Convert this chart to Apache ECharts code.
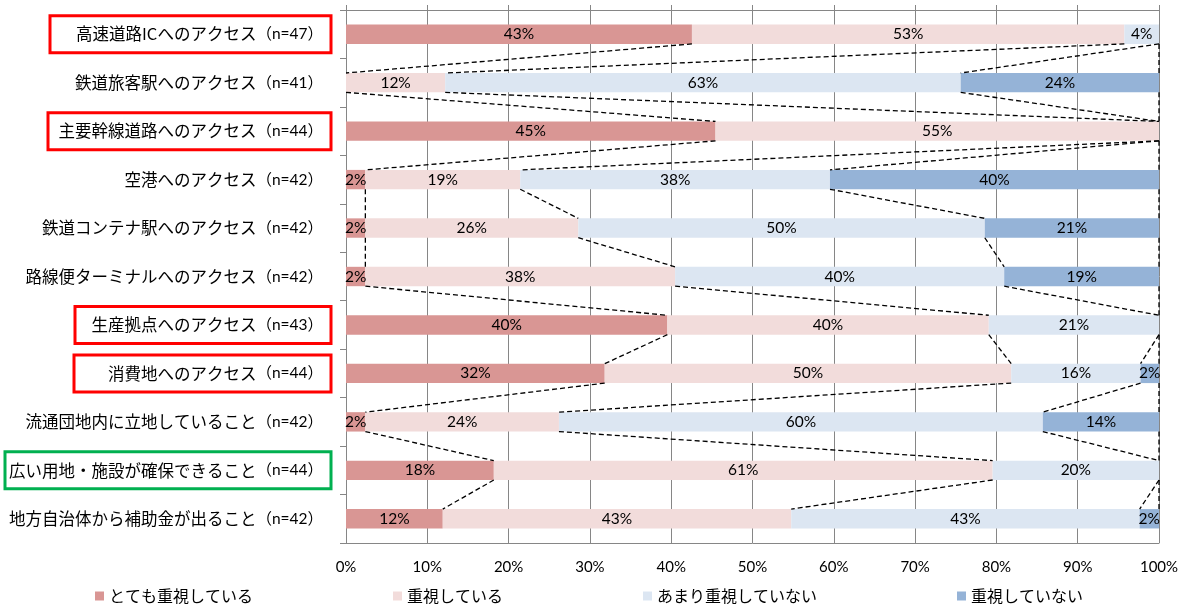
<!DOCTYPE html>
<html>
<head>
<meta charset="utf-8">
<script src="https://cdn.jsdelivr.net/npm/echarts@6/dist/echarts.min.js"></script>
<style>
  html, body { margin: 0; padding: 0; background: #fff; }
  #chart { width: 1186px; height: 610px; }
</style>
</head>
<body>
<div id="chart"></div>
<script>
// Survey items (top to bottom)
const categories = [
  '高速道路ICへのアクセス（n=47）',
  '鉄道旅客駅へのアクセス（n=41）',
  '主要幹線道路へのアクセス（n=44）',
  '空港へのアクセス（n=42）',
  '鉄道コンテナ駅へのアクセス（n=42）',
  '路線便ターミナルへのアクセス（n=42）',
  '生産拠点へのアクセス（n=43）',
  '消費地へのアクセス（n=44）',
  '流通団地内に立地していること（n=42）',
  '広い用地・施設が確保できること（n=44）',
  '地方自治体から補助金が出ること（n=42）'
];

const seriesNames = ['とても重視している', '重視している', 'あまり重視していない', '重視していない'];

// Share of respondents (%) per answer
const veryImportant = [42.55, 0,     45.45, 2.38,  2.38,  2.38,  39.53, 31.82, 2.38,  18.18, 11.90];
const important     = [53.19, 12.20, 54.55, 19.05, 26.19, 38.10, 39.53, 50.00, 23.81, 61.36, 42.86];
const notVery       = [4.26,  63.41, 0,     38.10, 50.00, 40.48, 20.94, 15.91, 59.52, 20.46, 42.86];
const notImportant  = [0,     24.39, 0,     40.47, 21.43, 19.04, 0,     2.27,  14.29, 0,     2.38];

const xTicks = [0, 10, 20, 30, 40, 50, 60, 70, 80, 90, 100];

const seriesValues = [veryImportant, important, notVery, notImportant];
const colors = ['#D99694', '#F2DCDB', '#DCE6F2', '#95B3D7'];
const BAR_RATIO = 0.4;
const JP_FONT = '"Noto Sans CJK JP", "Noto Sans", sans-serif';
const NUM_FONT = 'Lato, "Noto Sans CJK JP", sans-serif';

// Items drawn with a frame around their label
const frames = [
  { index: 0, color: '#FF0000', width: 273 },
  { index: 2, color: '#FF0000', width: 275 },
  { index: 6, color: '#FF0000', width: 248 },
  { index: 7, color: '#FF0000', width: 249 },
  { index: 9, color: '#00B050', width: 318 }
];

const yData = categories.map((name, i) => {
  const f = frames.find(fr => fr.index === i);
  if (!f) return name;
  return {
    value: name,
    textStyle: {
      width: f.width,
      padding: [10, 8, 10, 0],
      borderColor: f.color,
      borderWidth: 3
    }
  };
});

function cumulative(row) {
  let s = 0;
  return seriesValues.map(arr => (s += arr[row]));
}

const barSeries = seriesValues.map((vals, k) => ({
  name: seriesNames[k],
  type: 'bar',
  stack: 'total',
  barWidth: (BAR_RATIO * 100) + '%',
  data: vals,
  itemStyle: { color: colors[k] },
  label: {
    show: true,
    position: 'inside',
    color: '#000',
    fontSize: 15.5,
    fontFamily: NUM_FONT,
    formatter: p => (p.value > 0 ? Math.round(p.value) + '%' : '')
  },
  emphasis: { disabled: true }
}));

// Dashed series lines joining the stack boundaries of neighbouring bars
const connectorSeries = {
  type: 'custom',
  coordinateSystem: 'cartesian2d',
  silent: true,
  z: 5,
  encode: { x: 0, y: 1 },
  data: categories.slice(0, -1).map((_, i) => [0, i]),
  renderItem: function (params, api) {
    const row = api.value(1);
    const half = api.size([0, 1])[1] * BAR_RATIO / 2;
    const a = cumulative(row);
    const b = cumulative(row + 1);
    return {
      type: 'group',
      children: a.map((va, k) => {
        const p1 = api.coord([va, row]);
        const p2 = api.coord([b[k], row + 1]);
        return {
          type: 'line',
          shape: { x1: p1[0], y1: p1[1] + half, x2: p2[0], y2: p2[1] - half },
          style: { stroke: '#000', lineWidth: 1.3, lineDash: [5, 3], fill: null }
        };
      })
    };
  }
};

const chart = echarts.init(document.getElementById('chart'), null, { renderer: 'canvas' });
chart.setOption({
  animation: false,
  backgroundColor: '#fff',
  grid: { left: 346, right: 27, top: 10, bottom: 67, outerBoundsMode: 'none' },
  legend: {
    data: seriesNames,
    top: 588,
    left: 95,
    padding: 0,
    icon: 'rect',
    itemWidth: 9,
    itemHeight: 9,
    itemGap: 140,
    selectedMode: false,
    textStyle: { fontSize: 16, fontFamily: JP_FONT, color: '#000' }
  },
  xAxis: [
    {
      type: 'value',
      position: 'bottom',
      min: xTicks[0],
      max: xTicks[xTicks.length - 1],
      interval: xTicks[1] - xTicks[0],
      axisLine: { show: true, lineStyle: { color: '#868686', width: 1 } },
      axisTick: { show: false },
      axisLabel: {
        formatter: '{value}%',
        color: '#000',
        fontSize: 15,
        fontFamily: NUM_FONT,
        margin: 17
      },
      splitLine: { show: true, lineStyle: { color: '#868686', width: 1 } }
    },
    {
      type: 'value',
      position: 'top',
      min: xTicks[0],
      max: xTicks[xTicks.length - 1],
      interval: xTicks[1] - xTicks[0],
      axisLine: { show: true, lineStyle: { color: '#868686', width: 1 } },
      axisTick: { show: true, length: 5, lineStyle: { color: '#868686' } },
      axisLabel: { show: false },
      splitLine: { show: false }
    }
  ],
  yAxis: {
    type: 'category',
    inverse: true,
    data: yData,
    axisLine: { show: true, lineStyle: { color: '#868686', width: 1 } },
    axisTick: { show: true, length: 6, lineStyle: { color: '#868686' } },
    splitLine: { show: false },
    axisLabel: {
      margin: 15,
      padding: [0, 8, 0, 0],
      formatter: value => {
        const cut = value.indexOf('（');
        return '{m|' + value.slice(0, cut) + '}{p|' + value.slice(cut) + '}';
      },
      rich: {
        m: { fontSize: 16.5, fontFamily: JP_FONT, color: '#000', lineHeight: 17 },
        p: { fontSize: 15.5, fontFamily: NUM_FONT, color: '#000', lineHeight: 17 }
      }
    }
  },
  series: barSeries.concat([connectorSeries])
});
</script>
</body>
</html>
